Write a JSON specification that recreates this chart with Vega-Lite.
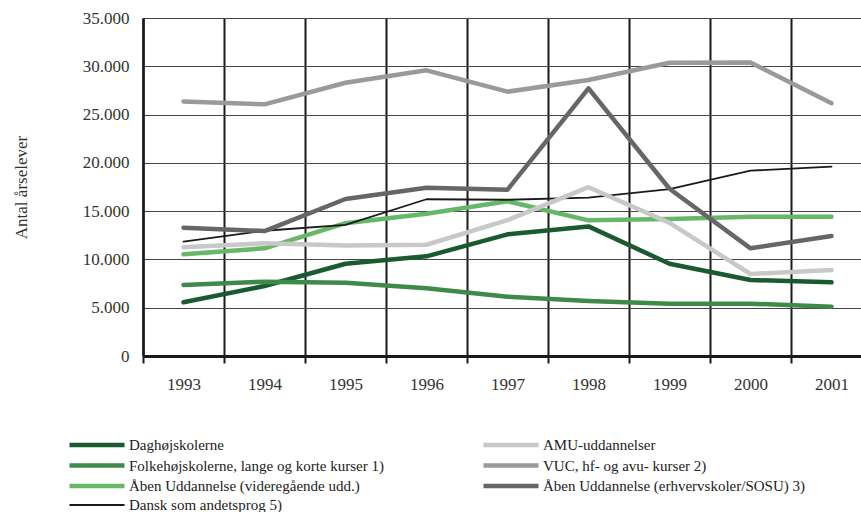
{
  "$schema": "https://vega.github.io/schema/vega-lite/v6.json",
  "width": 718,
  "height": 338,
  "autosize": {"type": "none"},
  "padding": {"left": 143, "top": 18, "right": 0, "bottom": 156},
  "config": {"font": "Liberation Serif", "view": {"stroke": null}},
  "data": {"values": [
    {"series": "Daghøjskolerne", "year": "1993", "value": 5560},
    {"series": "Daghøjskolerne", "year": "1994", "value": 7250},
    {"series": "Daghøjskolerne", "year": "1995", "value": 9550},
    {"series": "Daghøjskolerne", "year": "1996", "value": 10320},
    {"series": "Daghøjskolerne", "year": "1997", "value": 12600},
    {"series": "Daghøjskolerne", "year": "1998", "value": 13420},
    {"series": "Daghøjskolerne", "year": "1999", "value": 9550},
    {"series": "Daghøjskolerne", "year": "2000", "value": 7870},
    {"series": "Daghøjskolerne", "year": "2001", "value": 7630},
    {"series": "Folkehøjskolerne, lange og korte kurser 1)", "year": "1993", "value": 7350},
    {"series": "Folkehøjskolerne, lange og korte kurser 1)", "year": "1994", "value": 7700},
    {"series": "Folkehøjskolerne, lange og korte kurser 1)", "year": "1995", "value": 7590},
    {"series": "Folkehøjskolerne, lange og korte kurser 1)", "year": "1996", "value": 7010},
    {"series": "Folkehøjskolerne, lange og korte kurser 1)", "year": "1997", "value": 6140},
    {"series": "Folkehøjskolerne, lange og korte kurser 1)", "year": "1998", "value": 5700},
    {"series": "Folkehøjskolerne, lange og korte kurser 1)", "year": "1999", "value": 5400},
    {"series": "Folkehøjskolerne, lange og korte kurser 1)", "year": "2000", "value": 5420},
    {"series": "Folkehøjskolerne, lange og korte kurser 1)", "year": "2001", "value": 5100},
    {"series": "Åben Uddannelse (videregående udd.)", "year": "1993", "value": 10530},
    {"series": "Åben Uddannelse (videregående udd.)", "year": "1994", "value": 11150},
    {"series": "Åben Uddannelse (videregående udd.)", "year": "1995", "value": 13750},
    {"series": "Åben Uddannelse (videregående udd.)", "year": "1996", "value": 14720},
    {"series": "Åben Uddannelse (videregående udd.)", "year": "1997", "value": 16030},
    {"series": "Åben Uddannelse (videregående udd.)", "year": "1998", "value": 14050},
    {"series": "Åben Uddannelse (videregående udd.)", "year": "1999", "value": 14180},
    {"series": "Åben Uddannelse (videregående udd.)", "year": "2000", "value": 14430},
    {"series": "Åben Uddannelse (videregående udd.)", "year": "2001", "value": 14430},
    {"series": "Dansk som andetsprog 5)", "year": "1993", "value": 11840},
    {"series": "Dansk som andetsprog 5)", "year": "1994", "value": 12970},
    {"series": "Dansk som andetsprog 5)", "year": "1995", "value": 13570},
    {"series": "Dansk som andetsprog 5)", "year": "1996", "value": 16230},
    {"series": "Dansk som andetsprog 5)", "year": "1997", "value": 16180},
    {"series": "Dansk som andetsprog 5)", "year": "1998", "value": 16390},
    {"series": "Dansk som andetsprog 5)", "year": "1999", "value": 17270},
    {"series": "Dansk som andetsprog 5)", "year": "2000", "value": 19190},
    {"series": "Dansk som andetsprog 5)", "year": "2001", "value": 19600},
    {"series": "AMU-uddannelser", "year": "1993", "value": 11250},
    {"series": "AMU-uddannelser", "year": "1994", "value": 11670},
    {"series": "AMU-uddannelser", "year": "1995", "value": 11450},
    {"series": "AMU-uddannelser", "year": "1996", "value": 11520},
    {"series": "AMU-uddannelser", "year": "1997", "value": 14060},
    {"series": "AMU-uddannelser", "year": "1998", "value": 17480},
    {"series": "AMU-uddannelser", "year": "1999", "value": 13780},
    {"series": "AMU-uddannelser", "year": "2000", "value": 8490},
    {"series": "AMU-uddannelser", "year": "2001", "value": 8900},
    {"series": "VUC, hf- og avu- kurser 2)", "year": "1993", "value": 26360},
    {"series": "VUC, hf- og avu- kurser 2)", "year": "1994", "value": 26060},
    {"series": "VUC, hf- og avu- kurser 2)", "year": "1995", "value": 28300},
    {"series": "VUC, hf- og avu- kurser 2)", "year": "1996", "value": 29580},
    {"series": "VUC, hf- og avu- kurser 2)", "year": "1997", "value": 27370},
    {"series": "VUC, hf- og avu- kurser 2)", "year": "1998", "value": 28580},
    {"series": "VUC, hf- og avu- kurser 2)", "year": "1999", "value": 30370},
    {"series": "VUC, hf- og avu- kurser 2)", "year": "2000", "value": 30400},
    {"series": "VUC, hf- og avu- kurser 2)", "year": "2001", "value": 26170},
    {"series": "Åben Uddannelse (erhvervskoler/SOSU) 3)", "year": "1993", "value": 13290},
    {"series": "Åben Uddannelse (erhvervskoler/SOSU) 3)", "year": "1994", "value": 12940},
    {"series": "Åben Uddannelse (erhvervskoler/SOSU) 3)", "year": "1995", "value": 16260},
    {"series": "Åben Uddannelse (erhvervskoler/SOSU) 3)", "year": "1996", "value": 17430},
    {"series": "Åben Uddannelse (erhvervskoler/SOSU) 3)", "year": "1997", "value": 17220},
    {"series": "Åben Uddannelse (erhvervskoler/SOSU) 3)", "year": "1998", "value": 27720},
    {"series": "Åben Uddannelse (erhvervskoler/SOSU) 3)", "year": "1999", "value": 17320},
    {"series": "Åben Uddannelse (erhvervskoler/SOSU) 3)", "year": "2000", "value": 11150},
    {"series": "Åben Uddannelse (erhvervskoler/SOSU) 3)", "year": "2001", "value": 12425}
  ]},
  "mark": {"type": "line", "strokeCap": "round", "strokeJoin": "round"},
  "encoding": {
    "x": {
      "field": "year", "type": "ordinal",
      "scale": {"type": "band", "range": [0, 729], "paddingInner": 0, "paddingOuter": 0},
      "axis": {
        "title": null, "labelAngle": 0, "tickBand": "extent",
        "grid": true, "gridColor": "#1a1a1a", "gridWidth": 2, "gridOpacity": 1,
        "domainColor": "#1a1a1a", "domainWidth": 3,
        "tickColor": "#1a1a1a", "tickWidth": 2, "tickSize": 7,
        "labelFont": "Liberation Serif", "labelFontSize": 17, "labelColor": "#333",
        "labelPadding": 13
      }
    },
    "y": {
      "field": "value", "type": "quantitative",
      "scale": {"domain": [0, 35000], "nice": false},
      "axis": {
        "title": "Antal årselever", "titleFont": "Liberation Serif", "titleFontSize": 17,
        "titleFontWeight": "normal", "titleColor": "#333", "titlePadding": 52,
        "values": [0, 5000, 10000, 15000, 20000, 25000, 30000, 35000],
        "labelExpr": "replace(format(datum.value, ','), ',', '.')",
        "labelFont": "Liberation Serif", "labelFontSize": 17, "labelColor": "#333",
        "ticks": false, "labelPadding": 14,
        "grid": true, "gridColor": "#444", "gridWidth": 1.2, "gridOpacity": 1,
        "domainColor": "#1a1a1a", "domainWidth": 2.5
      }
    },
    "color": {
      "field": "series", "type": "nominal",
      "scale": {
        "domain": ["Daghøjskolerne", "Folkehøjskolerne, lange og korte kurser 1)", "Åben Uddannelse (videregående udd.)", "Dansk som andetsprog 5)", "AMU-uddannelser", "VUC, hf- og avu- kurser 2)", "Åben Uddannelse (erhvervskoler/SOSU) 3)"],
        "range": ["#1b5a30", "#3e8a48", "#66b866", "#1a1a1a", "#c8c8c8", "#9a9a9a", "#666666"]
      },
      "legend": {
        "orient": "none", "legendX": -54, "legendY": 419, "columns": 2,
        "title": null, "symbolType": "M-5,0H5", "symbolSize": 121,
        "labelFont": "Liberation Serif", "labelFontSize": 15, "labelColor": "#222",
        "labelOffset": 24, "labelLimit": 400, "columnPadding": 90, "rowPadding": 2.5
      }
    },
    "strokeWidth": {
      "field": "series", "type": "nominal",
      "scale": {
        "type": "ordinal",
        "domain": ["Daghøjskolerne", "Folkehøjskolerne, lange og korte kurser 1)", "Åben Uddannelse (videregående udd.)", "Dansk som andetsprog 5)", "AMU-uddannelser", "VUC, hf- og avu- kurser 2)", "Åben Uddannelse (erhvervskoler/SOSU) 3)"],
        "range": [4.5, 4.5, 4.5, 1.8, 4.5, 4.5, 4.5]
      }
    }
  }
}
